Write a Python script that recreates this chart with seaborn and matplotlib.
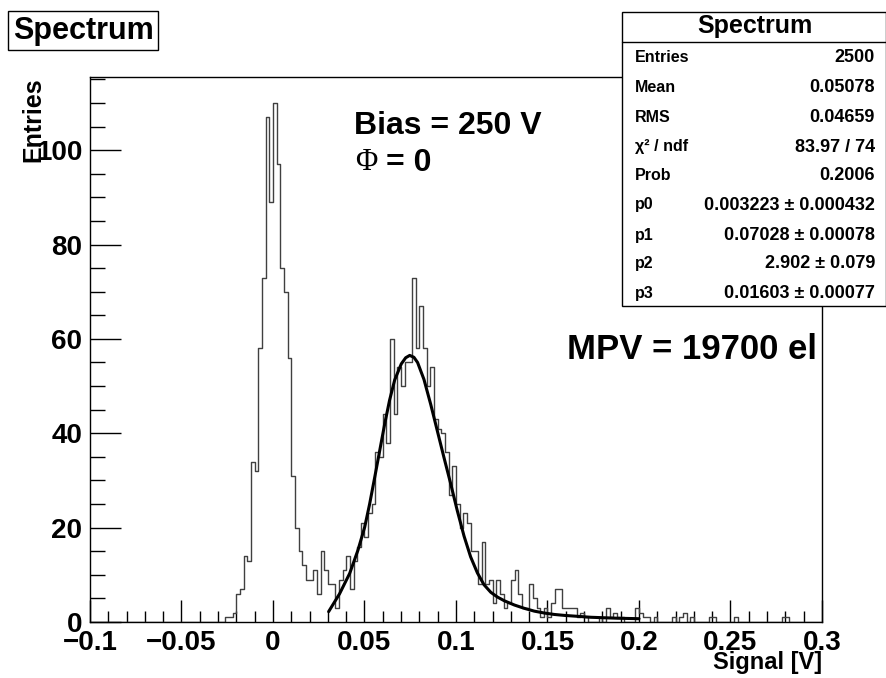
import numpy as np
import pandas as pd
import matplotlib
matplotlib.use("Agg")
import matplotlib.pyplot as plt
from matplotlib.patches import Rectangle
from matplotlib.lines import Line2D
from matplotlib.ticker import MultipleLocator, FixedLocator, FixedFormatter
import seaborn as sns

# ---------------- data ----------------
x_min, x_max, n_bins = -0.1, 0.3, 200
counts = [
    0, 0, 0, 0, 0, 0, 0, 0, 0, 0, 0, 0, 0, 0, 0, 0, 0, 0, 0, 0,
    0, 0, 0, 0, 0, 0, 0, 0, 0, 0, 0, 0, 0, 0, 0, 0, 0, 1, 1, 2,
    6, 7, 14, 13, 34, 32, 58, 73, 107, 89, 110, 97, 75, 70, 56, 31, 20, 15, 12, 9,
    9, 11, 6, 15, 11, 8, 8, 3, 9, 11, 14, 7, 13, 16, 21, 18, 23, 25, 36, 35,
    44, 38, 60, 44, 54, 50, 55, 55, 73, 58, 67, 58, 50, 54, 43, 41, 40, 36, 27, 33,
    25, 20, 23, 21, 15, 15, 8, 17, 8, 9, 4, 9, 6, 3, 4, 9, 11, 6, 3, 3,
    8, 5, 3, 1, 3, 1, 4, 7, 7, 3, 3, 3, 3, 1, 2, 1, 0, 0, 0, 1,
    0, 3, 1, 2, 1, 1, 0, 0, 0, 3, 2, 1, 1, 0, 1, 0, 0, 0, 0, 1,
    0, 1, 2, 0, 1, 0, 0, 0, 0, 1, 1, 0, 0, 0, 0, 0, 1, 0, 0, 0,
    0, 0, 0, 0, 0, 0, 0, 0, 0, 1, 1, 0, 0, 0, 0, 0, 0, 0, 0, 0,
]

fit_x = [0.0304, 0.0364, 0.0419, 0.0464, 0.0501, 0.0528, 0.0556, 0.0583, 0.0610,
         0.0637, 0.0665, 0.0701, 0.0725, 0.0747, 0.0770, 0.0790, 0.0825, 0.0862,
         0.0898, 0.0934, 0.0971, 0.1007, 0.1044, 0.1080, 0.1117, 0.1153, 0.1190,
         0.1226, 0.1264, 0.1319, 0.1373, 0.1428, 0.1483, 0.1537, 0.1592, 0.1665,
         0.1738, 0.1810, 0.1883, 0.2000]
fit_y = [2.2, 6.0, 10.3, 15.2, 20.1, 25.0, 30.7, 36.3, 41.9,
         47.0, 51.3, 54.7, 56.0, 56.5, 56.1, 55.0, 51.4, 46.1,
         40.5, 34.9, 29.3, 23.6, 18.2, 13.8, 10.4, 7.9, 6.3,
         5.3, 4.5, 3.6, 2.9, 2.3, 1.9, 1.6, 1.4, 1.2,
         1.0, 0.9, 0.8, 0.7]

x_tick_values = [-0.1, -0.05, 0.0, 0.05, 0.1, 0.15, 0.2, 0.25, 0.3]
x_tick_labels = ["\u22120.1", "\u22120.05", "0", "0.05", "0.1", "0.15", "0.2", "0.25", "0.3"]
y_tick_values = [0, 20, 40, 60, 80, 100]
y_tick_labels = ["0", "20", "40", "60", "80", "100"]
y_max = 115.5

stats_labels = ["Entries", "Mean", "RMS", "\u03c7\u00b2 / ndf", "Prob", "p0", "p1", "p2", "p3"]
stats_values = ["2500", "0.05078", "0.04659", "83.97 / 74", "0.2006",
                "0.003223 \u00b1 0.000432", "0.07028 \u00b1 0.00078",
                "2.902 \u00b1 0.079", "0.01603 \u00b1 0.00077"]

# ---------------- style ----------------
sns.set_style("white")
FONT = ["Liberation Sans", "DejaVu Sans"]
plt.rcParams["font.family"] = FONT
plt.rcParams["font.weight"] = "bold"
plt.rcParams["axes.unicode_minus"] = True
plt.rcParams["text.color"] = "black"
plt.rcParams["axes.labelcolor"] = "black"
plt.rcParams["xtick.color"] = "black"
plt.rcParams["ytick.color"] = "black"

W, H = 887, 678
fig = plt.figure(figsize=(W / 100, H / 100), dpi=100)
fig.patch.set_facecolor("white")


def fx(px):
    return px / W


def fy(py):
    return 1 - py / H


L, R, T, B = 90, 822, 77, 622
ax = fig.add_axes([fx(L), fy(B), (R - L) / W, (B - T) / H])
ax.set_facecolor("white")

bin_w = (x_max - x_min) / n_bins
centers = x_min + bin_w * (np.arange(n_bins) + 0.5)
df = pd.DataFrame({"signal": centers, "entries": np.asarray(counts, dtype=float)})

sns.histplot(data=df, x="signal", weights="entries", bins=n_bins,
             binrange=(x_min, x_max),
             element="step", fill=False, color="#404040", linewidth=1.0, ax=ax)

fit_df = pd.DataFrame({"x": fit_x, "y": fit_y})
sns.lineplot(data=fit_df, x="x", y="y", color="black", linewidth=2.2, ax=ax,
             sort=True, zorder=5)

ax.set_xlim(x_min, x_max)
ax.set_ylim(0, y_max)
ax.set_xlabel("")
ax.set_ylabel("")

for s in ax.spines.values():
    s.set_visible(True)
    s.set_color("black")
    s.set_linewidth(1.0)

ax.xaxis.set_major_locator(FixedLocator(x_tick_values))
ax.xaxis.set_major_formatter(FixedFormatter(x_tick_labels))
ax.xaxis.set_minor_locator(MultipleLocator(0.01))
ax.yaxis.set_major_locator(FixedLocator(y_tick_values))
ax.yaxis.set_major_formatter(FixedFormatter(y_tick_labels))
ax.yaxis.set_minor_locator(MultipleLocator(5))

ax.tick_params(axis="x", which="major", direction="in", length=16, width=1,
               labelsize=20, pad=5.5, top=False, bottom=True, colors="black")
ax.tick_params(axis="x", which="minor", direction="in", length=8, width=1,
               top=False, bottom=True, colors="black")
ax.tick_params(axis="y", which="major", direction="in", length=22, width=1,
               labelsize=20, pad=5.5, right=False, left=True, colors="black")
ax.tick_params(axis="y", which="minor", direction="in", length=11, width=1,
               right=False, left=True, colors="black")
for lab in ax.get_xticklabels() + ax.get_yticklabels():
    lab.set_fontweight("bold")

# axis titles
fig.text(fx(33), fy(77), "Entries", rotation=90, ha="center", va="top",
         fontsize=18, fontweight="bold")
fig.text(fx(822), fy(662), "Signal [V]", ha="right", va="center",
         fontsize=17, fontweight="bold")

# annotations
fig.text(fx(354), fy(126), "Bias = 250 V", ha="left", va="center",
         fontsize=23, fontweight="bold")
fig.text(fx(355), fy(163), "\u03a6", ha="left", va="center", fontsize=22,
         family=["Liberation Serif", "DejaVu Serif"], fontweight="normal")
fig.text(fx(386), fy(163), "= 0", ha="left", va="center",
         fontsize=23, fontweight="bold")
fig.text(fx(567), fy(350), "MPV = 19700 el", ha="left", va="center",
         fontsize=25, fontweight="bold")

# title box
fig.patches.append(Rectangle((fx(8), fy(50)), (158 - 8) / W, (50 - 11) / H,
                             transform=fig.transFigure, facecolor="white",
                             edgecolor="black", linewidth=1.0, zorder=10))
fig.text(fx(83), fy(31), "Spectrum", ha="center", va="center",
         fontsize=22, fontweight="bold", zorder=11)

# stats box
sx0, sx1, sy0, sy1 = 622.5, 886.5, 11.5, 306
fig.patches.append(Rectangle((fx(sx0), fy(sy1)), (sx1 - sx0) / W, (sy1 - sy0) / H,
                             transform=fig.transFigure, facecolor="white",
                             edgecolor="black", linewidth=1.0, zorder=10))
fig.lines.append(Line2D([fx(sx0), fx(sx1)], [fy(41.7), fy(41.7)],
                        transform=fig.transFigure, color="black",
                        linewidth=1.0, zorder=11))
fig.text(fx((sx0 + sx1) / 2), fy(26), "Spectrum", ha="center", va="center",
         fontsize=18, fontweight="bold", zorder=12)
row_y = [57, 87, 117, 147, 176, 205, 235, 264, 293]
for lab, val, ry in zip(stats_labels, stats_values, row_y):
    fig.text(fx(635), fy(ry), lab, ha="left", va="center", fontsize=11.5,
             fontweight="bold", zorder=12)
    fig.text(fx(875), fy(ry), val, ha="right", va="center", fontsize=13,
             fontweight="bold", zorder=12)

fig.savefig("out.png", dpi=100, facecolor="white")
